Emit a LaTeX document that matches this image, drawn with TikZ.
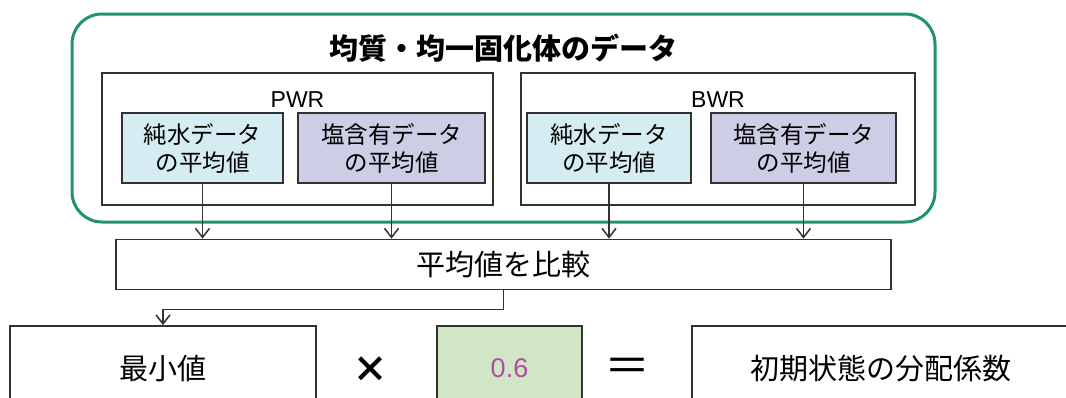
\documentclass[tikz,border=0pt]{standalone}
\usepackage{fontspec}
\setmainfont{Noto Sans CJK JP}
\newfontfamily\latinfont{Liberation Sans}
\usetikzlibrary{arrows.meta}

\definecolor{frameGreen}{RGB}{30,150,100}
\definecolor{pureFill}{RGB}{213,237,242}
\definecolor{saltFill}{RGB}{205,205,230}
\definecolor{factorFill}{RGB}{208,230,196}
\definecolor{factorText}{RGB}{180,75,165}
\definecolor{lineGray}{RGB}{50,50,50}

\tikzset{
  groupbox/.style={draw=lineGray, line width=1.8pt, inner sep=0pt},
  databox/.style={draw=lineGray, line width=1.8pt, inner sep=0pt, minimum height=70pt,
    align=center, font=\fontsize{23.5}{28}\selectfont},
  purebox/.style={databox, fill=pureFill},
  saltbox/.style={databox, fill=saltFill},
  plainbox/.style={draw=lineGray, line width=1.8pt, inner sep=0pt, minimum height=84pt,
    font=\fontsize{29}{34}\selectfont},
  arr/.style={draw=lineGray, line width=1.5pt, -{Straight Barb[length=9pt,width=14pt]}}
}

\begin{document}
\begin{tikzpicture}[x=1pt, y=-1pt]
                \useasboundingbox (0,0) rectangle (1066,397);
                \clip (0,0) rectangle (1066,397);

                \node[draw=frameGreen, line width=3pt, rounded corners=30pt,
                  minimum width=863pt, minimum height=208pt] (frame) at (503.5,118) {};
                \node[font=\fontsize{29}{34}\selectfont\bfseries] (title) at (503.5,48) {均質・均一固化体のデータ};

                \node[groupbox, minimum width=391pt, minimum height=132pt] (pwr) at (297.5,139) {};
                \node[groupbox, minimum width=394pt, minimum height=132pt] (bwr) at (718,139) {};
                \node[font=\latinfont\fontsize{23}{26}\selectfont] (pwrlab) at (297.5,100) {PWR};
                \node[font=\latinfont\fontsize{23}{26}\selectfont] (bwrlab) at (718,100) {BWR};

                \node[purebox, minimum width=161pt] (pwrpure) at (202.5,148) {純水データ\\の平均値};
                \node[saltbox, minimum width=187pt] (pwrsalt) at (391.5,148) {塩含有データ\\の平均値};
                \node[purebox, minimum width=164pt] (bwrpure) at (609,148) {純水データ\\の平均値};
                \node[saltbox, minimum width=185pt] (bwrsalt) at (803.5,148) {塩含有データ\\の平均値};

                \node[plainbox, minimum width=775pt, minimum height=50pt] (cmp) at (503.5,264.5) {平均値を比較};

                \node[plainbox, minimum width=306pt] (minv) at (163,368) {最小値};
                \node[font=\fontsize{36}{40}\selectfont\bfseries] (times) at (370,370) {×};
                \node[plainbox, minimum width=145pt, fill=factorFill, text=factorText,
                  font=\latinfont\fontsize{27}{32}\selectfont] (factor) at (509.5,368) {0.6};
                \node[font=\fontsize{46}{50}\selectfont] (equals) at (627,370) {＝};
                \node[plainbox, minimum width=378pt] (coef) at (881,368) {初期状態の分配係数};

                \draw[arr] (pwrpure.south) to (pwrpure.south |- cmp.north);
                \draw[arr] (pwrsalt.south) to (pwrsalt.south |- cmp.north);
                \draw[arr] (bwrpure.south) to (bwrpure.south |- cmp.north);
                \draw[arr] (bwrsalt.south) to (bwrsalt.south |- cmp.north);
                \draw[arr] (cmp.south) -- ++(0,19) -| (minv.north);
            \end{tikzpicture}
\end{document}
